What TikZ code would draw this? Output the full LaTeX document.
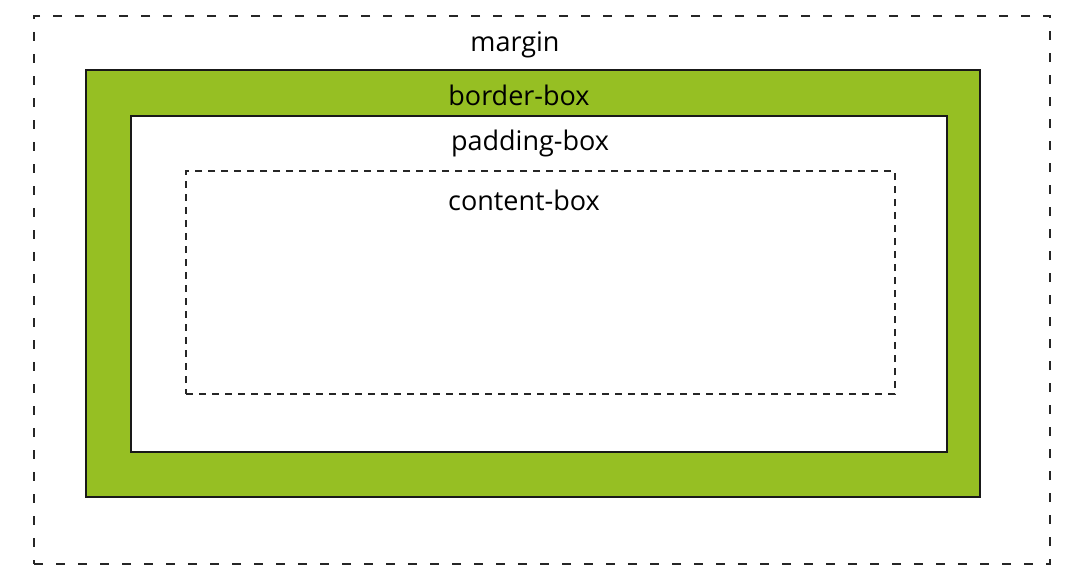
\documentclass[tikz,border=0pt]{standalone}
\usepackage{fontspec}
\setmainfont{Open Sans}
\definecolor{boxgreen}{HTML}{96BF23}
\begin{document}
\begin{tikzpicture}[x=1pt,y=-1pt,
  lbl/.style={font=\fontsize{27}{31}\selectfont, text=black, inner sep=0pt},
  dashbox/.style={draw=black!85, line width=1.5pt, dash pattern=on 9pt off 13pt},
  innerdash/.style={draw=black!85, line width=1.2pt, dash pattern=on 7pt off 6pt}]
\useasboundingbox (0,0) rectangle (1075,586);
\node[dashbox, minimum width=1016pt, minimum height=548pt, inner sep=0pt] (margin) at (542,290) {};
\node[draw=black!90, line width=1.2pt, fill=boxgreen, minimum width=894pt, minimum height=427pt, inner sep=0pt] (border) at (533,283.5) {};
\node[draw=black!90, line width=1.2pt, fill=white, minimum width=816pt, minimum height=336pt, inner sep=0pt] (padding) at (539,284) {};
\node[innerdash, minimum width=709pt, minimum height=223pt, inner sep=0pt] (content) at (540.5,282.5) {};
\node[lbl] (tmargin) at (515,45) {margin};
\node[lbl] (tborder) at (519,95) {border-box};
\node[lbl] (tpadding) at (530,143) {padding-box};
\node[lbl] (tcontent) at (524,200) {content-box};
\end{tikzpicture}
\end{document}
